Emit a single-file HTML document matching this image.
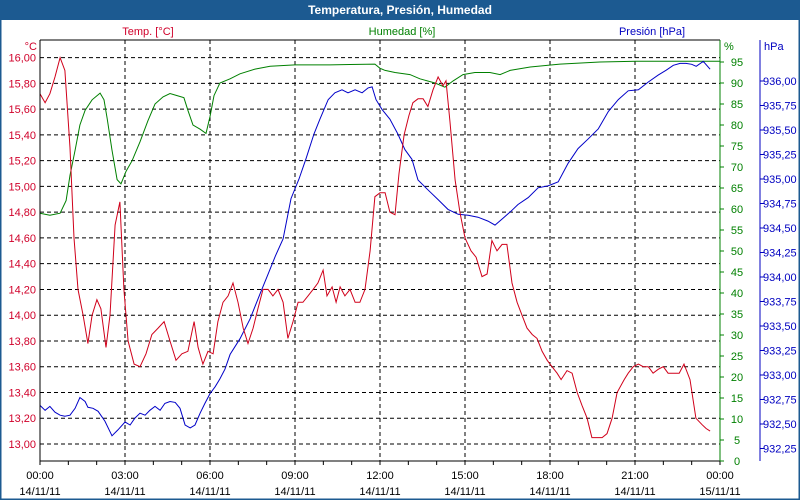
<!DOCTYPE html>
<html><head><meta charset="utf-8"><style>
body{margin:0;background:#fff;}
svg{display:block;font-family:"Liberation Sans","DejaVu Sans",sans-serif;}
</style></head><body>
<svg id="c" width="800" height="500" viewBox="0 0 800 500">
<rect x="0" y="0" width="800" height="500" fill="#fff"/>
<rect x="0" y="0" width="800" height="20" fill="#1c5a91"/>
<rect x="0.5" y="0.5" width="799" height="499" fill="none" stroke="#1c5a91" stroke-width="2"/>
<text x="400" y="14" text-anchor="middle" font-size="12" font-weight="bold" fill="#fff">Temperatura, Presión, Humedad</text>
<text x="148" y="35" text-anchor="middle" font-size="11" fill="#d0002a">Temp. [°C]</text>
<text x="402" y="35" text-anchor="middle" font-size="11" fill="#008000">Humedad [%]</text>
<text x="652" y="35" text-anchor="middle" font-size="11" fill="#0000c0">Presión [hPa]</text>
<text x="37" y="50" text-anchor="end" font-size="11" fill="#d0002a">°C</text>
<text x="724" y="50" font-size="11" fill="#008000">%</text>
<text x="764" y="50" font-size="11" fill="#0000c0">hPa</text>
<g id="grid"></g><g id="series"></g><g id="axes"></g>
</svg>
<script>
const hourX=[0,0.18,0.35,0.53,0.71,0.88,1.06,1.2,1.34,1.52,1.69,1.84,2.01,2.15,2.33,2.47,2.65,2.82,2.96,3.11,3.32,3.53,3.74,3.95,4.17,4.38,4.59,4.8,5.01,5.22,5.44,5.58,5.75,5.93,6.11,6.28,6.46,6.64,6.81,6.99,7.17,7.34,7.52,7.69,7.87,8.05,8.22,8.4,8.58,8.75,8.93,9.11,9.28,9.46,9.64,9.81,9.99,10.13,10.31,10.45,10.59,10.76,10.94,11.12,11.29,11.47,11.65,11.82,12.0,12.18,12.35,12.53,12.67,12.85,13.02,13.16,13.34,13.52,13.69,13.87,14.05,14.22,14.33,14.47,14.65,14.82,15.0,15.21,15.39,15.6,15.78,15.95,16.13,16.31,16.48,16.66,16.84,17.01,17.19,17.37,17.54,17.72,17.9,18.07,18.25,18.39,18.6,18.78,18.96,19.13,19.31,19.48,19.66,19.84,20.01,20.19,20.37,20.62,20.76,20.94,21.12,21.29,21.47,21.64,21.82,22.0,22.17,22.35,22.56,22.73,22.94,23.15,23.37,23.51,23.65];
const temps=[15.72,15.65,15.72,15.85,16.0,15.9,15.3,14.6,14.2,14.0,13.78,14.0,14.12,14.05,13.75,14.0,14.7,14.88,14.2,13.8,13.62,13.6,13.7,13.85,13.9,13.95,13.8,13.65,13.7,13.72,13.95,13.75,13.62,13.72,13.7,13.95,14.1,14.15,14.25,14.1,13.9,13.78,13.9,14.05,14.2,14.2,14.15,14.2,14.1,13.82,13.95,14.1,14.1,14.15,14.2,14.25,14.35,14.15,14.22,14.1,14.22,14.15,14.2,14.1,14.1,14.2,14.5,14.92,14.95,14.95,14.8,14.78,15.1,15.4,15.55,15.65,15.68,15.68,15.62,15.75,15.85,15.78,15.82,15.5,15.05,14.8,14.6,14.5,14.45,14.3,14.32,14.58,14.5,14.55,14.55,14.25,14.1,14.0,13.9,13.85,13.82,13.72,13.65,13.6,13.55,13.5,13.57,13.55,13.4,13.3,13.2,13.05,13.05,13.05,13.08,13.2,13.4,13.5,13.55,13.6,13.62,13.6,13.6,13.55,13.58,13.6,13.55,13.55,13.55,13.62,13.5,13.2,13.15,13.12,13.1,13.05];
const humHours=[0,0.35,0.71,0.92,1.06,1.24,1.41,1.59,1.84,2.12,2.26,2.37,2.54,2.72,2.86,3.04,3.25,3.53,3.81,4.06,4.34,4.59,4.84,5.08,5.22,5.4,5.65,5.86,6.0,6.14,6.35,6.71,7.06,7.59,8.12,9.0,10.24,10.94,11.82,12.0,12.18,12.53,13.06,13.41,13.94,14.29,14.58,14.93,15.35,15.88,16.24,16.59,17.3,18.35,19.76,21.18,24.0];
const humidity=[59,58.5,59,62,68,74,80,83.5,86,87.6,86,81.5,74,67,66,69,71.5,76,81,85,86.7,87.5,87,86.5,83.5,80,79,78,82,87,90,91,92.2,93.3,94,94.3,94.3,94.4,94.5,93.5,93,92.5,92,91,90,89,90.5,92,92.5,92.5,92,93,93.8,94.5,95,95.2,95.2];
const presHours=[0,0.18,0.35,0.53,0.71,0.88,1.06,1.24,1.41,1.59,1.69,1.87,2.05,2.29,2.54,2.75,3.0,3.18,3.35,3.53,3.71,3.88,4.06,4.24,4.41,4.59,4.77,4.94,5.12,5.3,5.47,5.65,5.82,6.0,6.18,6.35,6.53,6.71,7.06,7.41,7.77,8.05,8.3,8.58,8.86,9.14,9.39,9.67,9.88,10.17,10.41,10.66,10.87,11.12,11.37,11.58,11.72,11.86,12.07,12.35,12.63,12.88,13.13,13.34,13.69,14.05,14.4,14.76,15.11,15.46,15.81,16.06,16.34,16.62,16.87,17.23,17.58,17.93,18.29,18.64,18.99,19.35,19.7,20.06,20.41,20.76,21.12,21.47,21.82,22.1,22.35,22.59,22.8,23.0,23.16,23.41,23.65];
const pressure=[932.69,932.64,932.68,932.62,932.59,932.58,932.59,932.66,932.77,932.73,932.67,932.66,932.63,932.53,932.38,932.44,932.52,932.49,932.56,932.61,932.59,932.64,932.68,932.64,932.71,932.73,932.72,932.66,932.49,932.46,932.49,932.61,932.71,932.81,932.88,932.96,933.06,933.21,933.37,933.57,933.83,934.03,934.21,934.39,934.8,935.0,935.21,935.46,935.61,935.81,935.88,935.91,935.88,935.91,935.88,935.93,935.94,935.81,935.71,935.61,935.46,935.3,935.2,934.99,934.89,934.79,934.69,934.64,934.63,934.61,934.57,934.53,934.6,934.67,934.74,934.81,934.91,934.93,934.97,935.16,935.31,935.41,935.51,935.69,935.81,935.9,935.91,935.99,936.06,936.11,936.16,936.18,936.18,936.17,936.15,936.2,936.12,936.13];
const tempTicks=[13.0,13.2,13.4,13.6,13.8,14.0,14.2,14.4,14.6,14.8,15.0,15.2,15.4,15.6,15.8,16.0];
const humTicks=[0,5,10,15,20,25,30,35,40,45,50,55,60,65,70,75,80,85,90,95];
const presTicks=[932.25,932.5,932.75,933.0,933.25,933.5,933.75,934.0,934.25,934.5,934.75,935.0,935.25,935.5,935.75,936.0];
const timeTicks=[0,3,6,9,12,15,18,21,24];
const timeLabels=["00:00","03:00","06:00","09:00","12:00","15:00","18:00","21:00","00:00"];
const dateLabels=["14/11/11","14/11/11","14/11/11","14/11/11","14/11/11","14/11/11","14/11/11","14/11/11","15/11/11"];

const L=40,R=720,T=40,B=461;
const xS=h=>L+h*(R-L)/24;
const yT=v=>444-(v-13)*128.8;
const yH=v=>461-v*4.2;
const yP=v=>81-(v-936)*98;
const NS="http://www.w3.org/2000/svg";
function mk(tag,attrs,parent,txt){const e=document.createElementNS(NS,tag);for(const k in attrs)e.setAttribute(k,attrs[k]);if(txt!==undefined)e.textContent=txt;parent.appendChild(e);return e;}
const fmt=(v,d)=>v.toFixed(d).replace('.',',');
const grid=document.getElementById('grid'),ser=document.getElementById('series'),ax=document.getElementById('axes');

tempTicks.forEach(v=>{
  const y=yT(v);
  const g=mk('line',{x1:L,x2:R,y1:y,y2:y,stroke:'#000','stroke-dasharray':'4,3','stroke-width':1},grid);
  
  
  const t=mk('text',{x:36,y:y+4,'text-anchor':'end','font-size':11,fill:'#d0002a'},ax,fmt(v,2));
  
  
});
timeTicks.forEach((h,i)=>{
  const x=xS(h);
  if(i>0&&i<timeTicks.length-1){
    const g=mk('line',{x1:x,x2:x,y1:T,y2:B,stroke:'#000','stroke-dasharray':'4,3','stroke-width':1},grid);
    
    
  }
  const t1=mk('text',{x:x,y:479,'text-anchor':'middle','font-size':11,fill:'#000'},ax,timeLabels[i]);
  
  
  const t2=mk('text',{x:x,y:495,'text-anchor':'middle','font-size':11,fill:'#000'},ax,dateLabels[i]);
  
  
});
for(let h=0;h<=24;h++){
  const tk=mk('line',{x1:xS(h),x2:xS(h),y1:B,y2:B+4,stroke:'#000'},ax);
  
  
}
humTicks.forEach(v=>{
  const y=yH(v);
  const tk=mk('line',{x1:R,x2:R+4,y1:y,y2:y,stroke:'#008000'},ax);
  
  
  const t=mk('text',{x:R+17,y:y+4,'text-anchor':'middle','font-size':11,fill:'#008000'},ax,String(v));
  
  
});
presTicks.forEach(v=>{
  const y=yP(v);
  const tk=mk('line',{x1:760,x2:764,y1:y,y2:y,stroke:'#0000c0'},ax);
  
  
  const t=mk('text',{x:763,y:y+4,'font-size':11,fill:'#0000c0'},ax,fmt(v,2));
  
  
});
function line(xs,ys,fy,color,name){
  const n=Math.min(xs.length,ys.length);
  const pts=[];
  for(let i=0;i<n;i++)pts.push(xS(xs[i]).toFixed(1)+','+fy(ys[i]).toFixed(1));
  const p=mk('polyline',{points:pts.join(' '),fill:'none',stroke:color,'stroke-width':1},ser);
  
  
}
line(humHours,humidity,yH,'#008000','humidity-line');
line(presHours,pressure,yP,'#0000c8','pressure-line');
line(hourX,temps,yT,'#d0001a','temperature-line');
const fr=mk('path',{d:`M${L} ${T}H${R}M${L} ${T}V${B}H${R}`,stroke:'#000',fill:'none'},ax);


const ga=mk('line',{x1:R,x2:R,y1:T,y2:B,stroke:'#008000'},ax);


const pa=mk('line',{x1:760,x2:760,y1:T,y2:B,stroke:'#0000c0'},ax);


</script>
</body></html>
